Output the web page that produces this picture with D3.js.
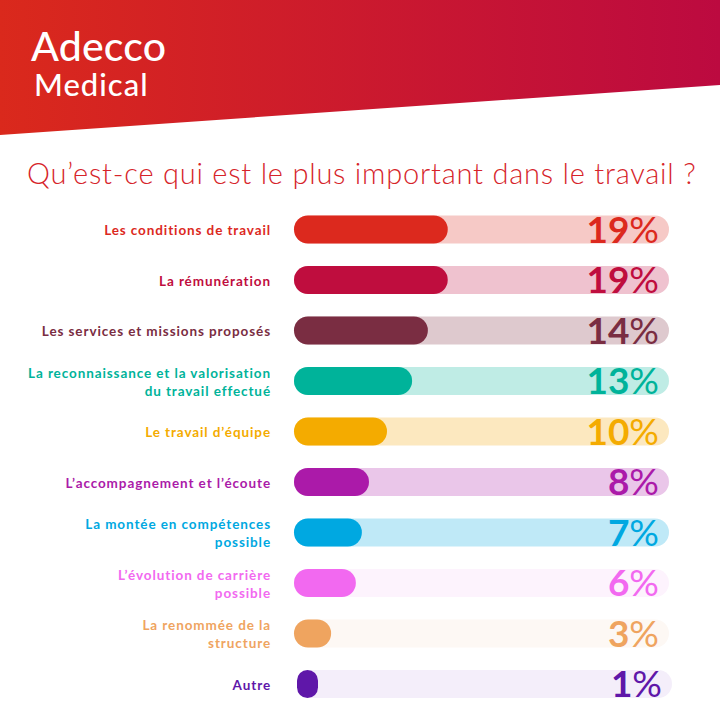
<!DOCTYPE html>
<html lang="fr">
<head>
  <meta charset="UTF-8">
  <title>Qu'est-ce qui est le plus important dans le travail ?</title>
  <script src="https://d3js.org/d3.v7.min.js"></script>
  <style>
    html, body { margin: 0; padding: 0; background: #fff; }
    svg { display: block; }
    text { font-family: Lato, sans-serif; }
    .label { font-size: 13.5px; font-weight: 700; letter-spacing: 0.9px; text-anchor: end; }
    .pct { font-size: 37px; font-weight: 700; text-anchor: end; }
    .pct tspan { font-weight: 400; }
  </style>
</head>
<body>
<svg width="720" height="720"></svg>
<script>
// label lines, printed percentage, and how far each pill fills its track (% of track)
const labels = [
  ["Les conditions de travail"],
  ["La rémunération"],
  ["Les services et missions proposés"],
  ["La reconnaissance et la valorisation", "du travail effectué"],
  ["Le travail d’équipe"],
  ["L’accompagnement et l’écoute"],
  ["La montée en compétences", "possible"],
  ["L’évolution de carrière", "possible"],
  ["La renommée de la", "structure"],
  ["Autre"]
];
const percents = [19, 19, 14, 13, 10, 8, 7, 6, 3, 1];
const fills = [41, 41, 35.7, 31.5, 24.8, 20, 18.1, 16.5, 9.9, 5.6];
const colors = ["#dc291e", "#bf0d3e", "#7a2d42", "#00b39a", "#f4ab00", "#ab1aa9", "#00a8e1", "#f269f0", "#efa45f", "#5f17a9"];
const tracks = ["#f6c9c6", "#efc2cf", "#dec9ce", "#bfece5", "#fce8bf", "#eac6e9", "#bfe9f7", "#fdf3fd", "#fdf8f4", "#f4eefa"];

const svg = d3.select("svg");
const barH = 28;

const x = d3.scaleLinear().domain([0, 100]).range([294, 669]);
const y = d3.scalePoint().domain(d3.range(labels.length)).range([229.5, 684]);

// header
const grad = svg.append("defs").append("linearGradient").attr("id", "head");
grad.append("stop").attr("offset", "0%").attr("stop-color", "#da291c");
grad.append("stop").attr("offset", "100%").attr("stop-color", "#bc0a40");
svg.append("path").attr("d", "M0,0H720V85L0,135Z").attr("fill", "url(#head)");

svg.append("text").attr("x", 31).attr("y", 61).attr("fill", "#fff")
  .attr("font-size", 41).attr("font-weight", 500).attr("letter-spacing", 0.2).text("Adecco");
svg.append("text").attr("x", 34).attr("y", 96).attr("fill", "#fff")
  .attr("font-size", 31).attr("font-weight", 500).attr("letter-spacing", 1).text("Medical");

svg.append("text").attr("x", 27).attr("y", 184).attr("fill", "#d6242a")
  .attr("font-size", 29).attr("font-weight", 300).attr("letter-spacing", 0.78)
  .text("Qu’est-ce qui est le plus important dans le travail ?");

// rows
const rows = svg.selectAll("g.row").data(d3.range(labels.length)).join("g")
  .attr("class", "row")
  // the last row sits slightly right of the others in the original
  .attr("transform", i => `translate(${i === labels.length - 1 ? 3 : 0},${y(i)})`);

rows.append("rect")
  .attr("x", x(0)).attr("y", -barH / 2)
  .attr("width", x(100) - x(0)).attr("height", barH)
  .attr("rx", barH / 2)
  .attr("fill", i => tracks[i]);

rows.append("rect")
  .attr("x", x(0)).attr("y", -barH / 2)
  .attr("width", i => x(fills[i]) - x(0)).attr("height", barH)
  .attr("rx", i => Math.min(barH / 2, (x(fills[i]) - x(0)) / 2))
  .attr("fill", i => colors[i]);

const pct = rows.append("text")
  .attr("class", "pct")
  .attr("x", 659).attr("y", 13)
  .attr("fill", i => colors[i])
  .text(i => percents[i]);
pct.append("tspan").text("%");

rows.each(function (i) {
  const lines = labels[i];
  const shift = i === labels.length - 1 ? 3 : 0;
  d3.select(this).selectAll("text.label").data(lines).join("text")
    .attr("class", "label")
    .attr("x", 271 - shift)
    .attr("y", (d, k) => 5.5 + (k - (lines.length - 1) / 2) * 18)
    .attr("fill", colors[i])
    .text(d => d);
});
</script>
</body>
</html>
